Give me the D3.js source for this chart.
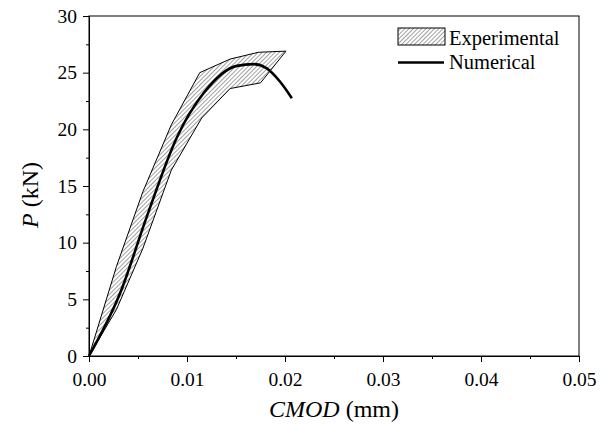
<!DOCTYPE html>
<html><head><meta charset="utf-8">
<script src="https://cdn.jsdelivr.net/npm/d3@7/dist/d3.min.js"></script>
<style>body{margin:0;background:#fff;} svg{display:block;}</style>
</head><body>
<svg id="c" width="602" height="428"></svg>
<script>
// Experimental envelope (upper and lower bounds)
const expUpperX = [0, 0.0028, 0.0055, 0.0084, 0.0113, 0.0144, 0.0173, 0.0201];
const expUpperP = [0, 7.9, 14.5, 20.4, 25.0, 26.2, 26.8, 26.9];
const expLowerX = [0.0201, 0.0175, 0.0144, 0.0115, 0.0084, 0.0055, 0.0028, 0];
const expLowerP = [26.9, 24.1, 23.6, 21.0, 16.4, 9.5, 4.1, 0];
// Numerical curve
const numX = [0, 0.0032, 0.0059, 0.0090, 0.0117, 0.0151, 0.0168, 0.0181, 0.0195, 0.0207];
const numP = [0, 5.6, 12.3, 19.35, 23.2, 25.6, 25.75, 25.4, 24.2, 22.75];
const xTicks = [0, 0.01, 0.02, 0.03, 0.04, 0.05];
const yTicks = [0, 5, 10, 15, 20, 25, 30];
const xMinor = [0.005, 0.015, 0.025, 0.035, 0.045];
const yMinor = [2.5, 7.5, 12.5, 17.5, 22.5, 27.5];

const svg = d3.select("#c");
const L = 89, R = 579, T = 16, B = 356;
const x = d3.scaleLinear().domain([0, 0.05]).range([L, R]);
const y = d3.scaleLinear().domain([0, 30]).range([B, T]);
const font = '"Liberation Serif", Tinos, "Times New Roman", Times, "Noto Serif", "DejaVu Serif", serif';

const defs = svg.append("defs");
const pat = defs.append("pattern").attr("id", "hatch").attr("patternUnits", "userSpaceOnUse")
  .attr("width", 3).attr("height", 3).attr("patternTransform", "rotate(45)");
pat.append("rect").attr("width", 3).attr("height", 3).attr("fill", "#fff");
pat.append("line").attr("x1", 0).attr("y1", 0).attr("x2", 0).attr("y2", 3)
  .attr("stroke", "#6e6e6e").attr("stroke-width", 1.3);

// band polygon
const poly = expUpperX.map((v, i) => [x(v), y(expUpperP[i])])
  .concat(expLowerX.map((v, i) => [x(v), y(expLowerP[i])]));
svg.append("path").attr("d", d3.line()(poly) + "Z")
  .attr("fill", "url(#hatch)").attr("stroke", "#000").attr("stroke-width", 1);

// numerical line
svg.append("path").datum(numX.map((v, i) => [v, numP[i]]))
  .attr("d", d3.line().x(d => x(d[0])).y(d => y(d[1])).curve(d3.curveMonotoneX))
  .attr("fill", "none").attr("stroke", "#000").attr("stroke-width", 2.6);

// frame
svg.append("rect").attr("x", L).attr("y", T).attr("width", R - L).attr("height", B - T)
  .attr("fill", "none").attr("stroke", "#000").attr("stroke-width", 1);

// axes
svg.append("g").attr("transform", `translate(0,${B})`)
  .call(d3.axisBottom(x).tickValues(xTicks).tickFormat(d3.format(".2f")).tickSize(6).tickPadding(10));
svg.append("g").attr("transform", `translate(0,${B})`)
  .call(d3.axisBottom(x).tickValues(xMinor).tickFormat("").tickSize(3)).select(".domain").remove();
svg.append("g").attr("transform", `translate(${L},0)`)
  .call(d3.axisLeft(y).tickValues(yTicks).tickSize(6).tickPadding(6));
svg.append("g").attr("transform", `translate(${L},0)`)
  .call(d3.axisLeft(y).tickValues(yMinor).tickFormat("").tickSize(3)).select(".domain").remove();
svg.selectAll("g").attr("font-family", font).attr("font-size", 19.5);
svg.selectAll(".tick text").attr("fill", "#000");
svg.selectAll(".domain").attr("stroke", "#000");

// axis titles
const xt = svg.append("text").attr("x", (L + R) / 2).attr("y", 417).attr("text-anchor", "middle")
  .attr("font-family", font).attr("font-size", 24);
xt.append("tspan").attr("font-style", "italic").text("CMOD");
xt.append("tspan").text(" (mm)");
const yt = svg.append("text").attr("transform", `translate(38,195) rotate(-90)`)
  .attr("text-anchor", "middle").attr("font-family", font).attr("font-size", 24);
yt.append("tspan").attr("font-style", "italic").text("P");
yt.append("tspan").text(" (kN)");

// legend
svg.append("rect").attr("x", 398).attr("y", 28).attr("width", 47).attr("height", 17)
  .attr("fill", "url(#hatch)").attr("stroke", "#000").attr("stroke-width", 1);
svg.append("line").attr("x1", 398).attr("x2", 444).attr("y1", 62.5).attr("y2", 62.5)
  .attr("stroke", "#000").attr("stroke-width", 2.6);
svg.append("text").attr("x", 449).attr("y", 45).attr("font-family", font).attr("font-size", 20.5).text("Experimental");
svg.append("text").attr("x", 449).attr("y", 69).attr("font-family", font).attr("font-size", 20.5).text("Numerical");
</script>
</body></html>
